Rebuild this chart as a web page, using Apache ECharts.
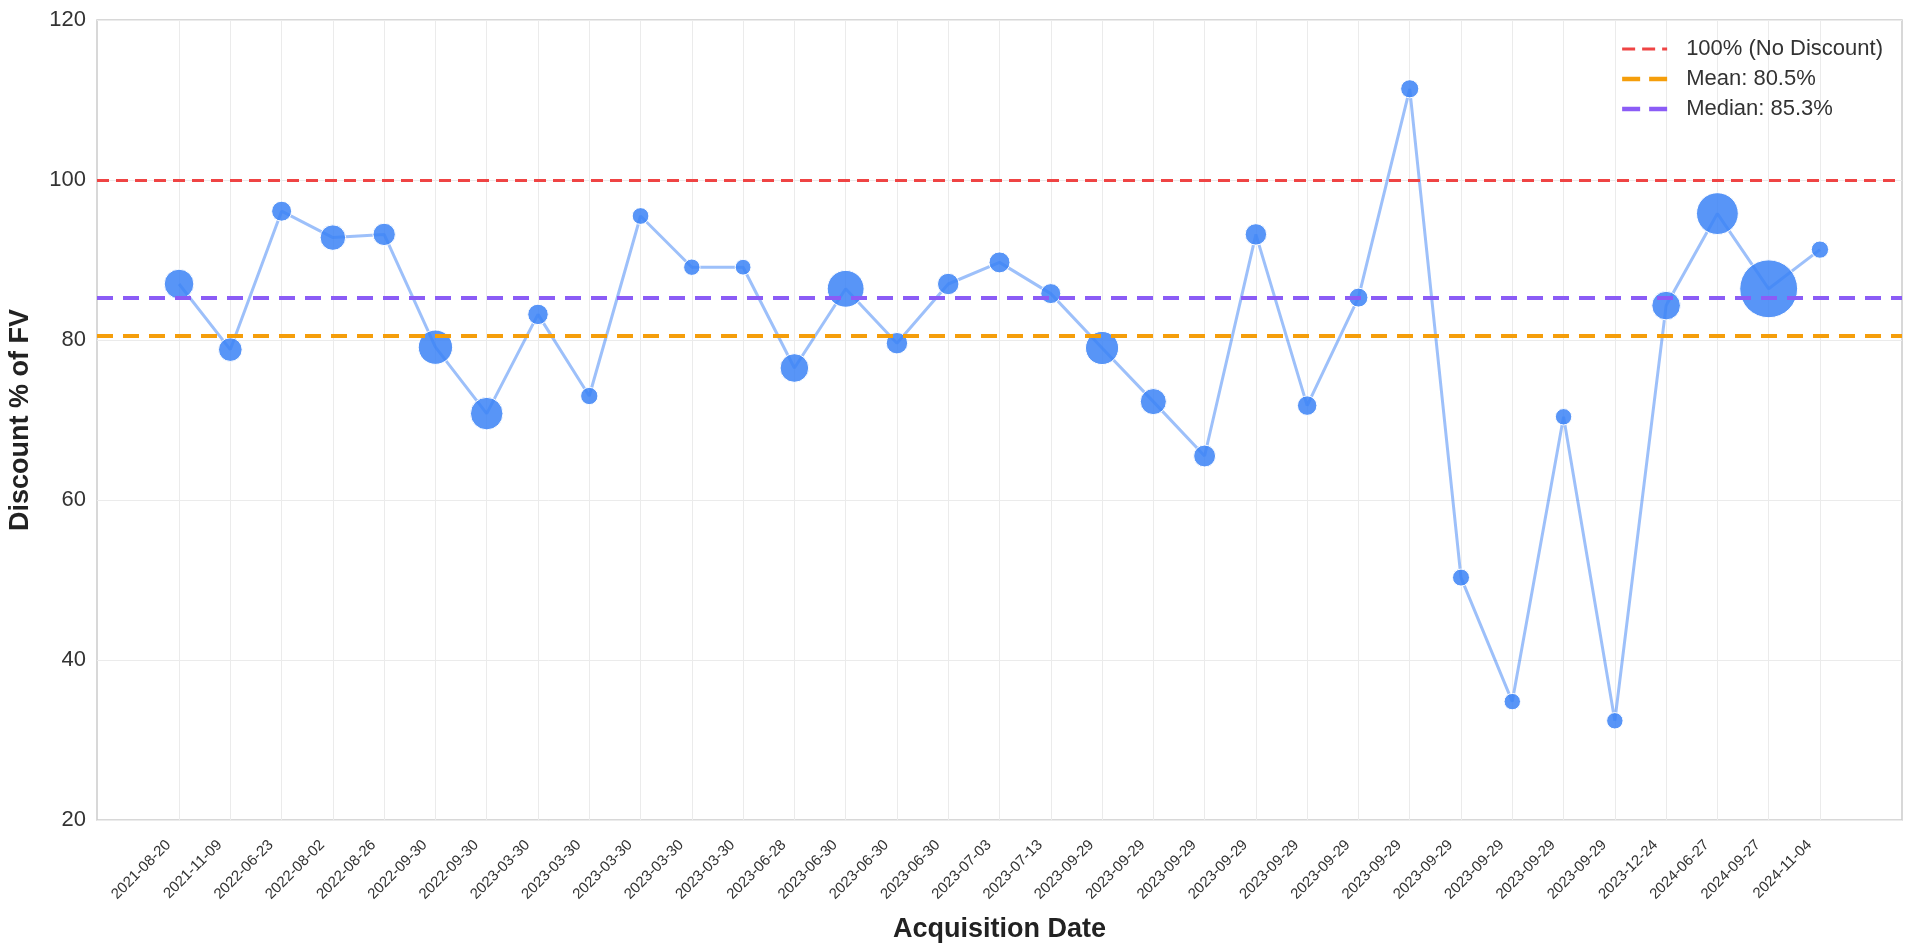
<!DOCTYPE html>
<html>
<head>
<meta charset="utf-8">
<script src="https://cdn.jsdelivr.net/npm/echarts@6/dist/echarts.min.js"></script>
<style>
  html, body { margin: 0; padding: 0; background: #ffffff; }
  #chart { width: 1920px; height: 952px; }
</style>
</head>
<body>
<div id="chart"></div>
<script>
// ---- Data ----
const acquisitionDates = [
  '2021-08-20', '2021-11-09', '2022-06-23', '2022-08-02', '2022-08-26',
  '2022-09-30', '2022-09-30', '2023-03-30', '2023-03-30', '2023-03-30',
  '2023-03-30', '2023-03-30', '2023-06-28', '2023-06-30', '2023-06-30',
  '2023-06-30', '2023-07-03', '2023-07-13', '2023-09-29', '2023-09-29',
  '2023-09-29', '2023-09-29', '2023-09-29', '2023-09-29', '2023-09-29',
  '2023-09-29', '2023-09-29', '2023-09-29', '2023-09-29', '2023-12-24',
  '2024-06-27', '2024-09-27', '2024-11-04'
];
const discountPct = [
  87.0, 78.8, 96.1, 92.8, 93.2, 79.1, 70.8, 83.2, 73.0, 95.5,
  89.1, 89.1, 76.5, 86.4, 79.6, 87.0, 89.7, 85.8, 79.0, 72.3,
  65.5, 93.2, 71.8, 85.3, 111.4, 50.3, 34.8, 70.4, 32.4, 84.3,
  95.8, 86.4, 91.3
];
// relative deal size (drives bubble area)
const dealSize = [
  88, 56, 40, 65, 50, 118, 106, 42, 30, 28,
  27, 25, 82, 136, 46, 46, 44, 40, 110, 68,
  48, 46, 38, 36, 33, 29, 27, 27, 27, 82,
  175, 335, 30
];
const noDiscountLevel = 100;
const meanValue = 80.5;
const medianValue = 85.3;
const yTicks = [20, 40, 60, 80, 100, 120];

// ---- Chart ----
const FONT = "'Liberation Sans', Arial, sans-serif";
const indices = acquisitionDates.map((d, i) => i);
const points = discountPct.map((v, i) => [i, v, dealSize[i]]);
const pad = (acquisitionDates.length - 1) * 0.05;

const nameRef = '100% (No Discount)';
const nameMean = 'Mean: ' + meanValue.toFixed(1) + '%';
const nameMedian = 'Median: ' + medianValue.toFixed(1) + '%';

// legend glyphs: dashed line segments drawn as small bars
const iconThin = 'path://M0,0h13v3h-13z M20,0h13v3h-13z M40,0h5v3h-5z';
const iconThick = 'path://M0,0h18v4.5h-18z M27,0h18v4.5h-18z';

function refSeries(name, value, color, width, dash) {
  return {
    name: name,
    type: 'line',
    data: [],
    symbol: 'none',
    lineStyle: { color: color, width: width, type: dash },
    itemStyle: { color: color },
    markLine: {
      silent: true,
      symbol: ['none', 'none'],
      label: { show: false },
      lineStyle: { color: color, width: width, type: dash },
      data: [{ yAxis: value }],
      animation: false
    },
    z: 3
  };
}

const chart = echarts.init(document.getElementById('chart'), null, { renderer: 'canvas' });
chart.setOption({
  animation: false,
  backgroundColor: '#ffffff',
  textStyle: { fontFamily: FONT },
  grid: {
    left: 97, right: 18, top: 20, bottom: 132,
    show: true, borderColor: '#cccccc', borderWidth: 1.5,
    containLabel: false,
    outerBoundsMode: 'none'
  },
  legend: {
    orient: 'vertical',
    right: 32,
    top: 33,
    padding: 5,
    itemWidth: 45,
    itemHeight: 14,
    itemGap: 8,
    textStyle: { fontSize: 22, color: '#333333', fontFamily: FONT, lineHeight: 22, padding: [0, 0, 0, 14] },
    data: [
      { name: nameRef, icon: iconThin, itemStyle: { color: '#ef4444' } },
      { name: nameMean, icon: iconThick, itemStyle: { color: '#f59e0b' } },
      { name: nameMedian, icon: iconThick, itemStyle: { color: '#8b5cf6' } }
    ]
  },
  xAxis: {
    type: 'value',
    min: -pad,
    max: acquisitionDates.length - 1 + pad,
    name: 'Acquisition Date',
    nameLocation: 'middle',
    nameGap: 96,
    nameTextStyle: { fontSize: 27, fontWeight: 'bold', color: '#222222', fontFamily: FONT },
    axisLine: { show: false },
    axisTick: { show: false, customValues: indices },
    axisLabel: {
      customValues: indices,
      rotate: 45,
      fontSize: 15,
      color: '#333333',
      margin: 12,
      padding: [0, 15, 0, 0],
      formatter: (v) => acquisitionDates[Math.round(v)] || ''
    },
    splitLine: { show: true, lineStyle: { color: '#ebebeb', width: 1 } }
  },
  yAxis: {
    type: 'value',
    min: yTicks[0],
    max: yTicks[yTicks.length - 1],
    interval: 20,
    name: 'Discount % of FV',
    nameLocation: 'middle',
    nameGap: 63,
    nameTextStyle: { fontSize: 27, fontWeight: 'bold', color: '#222222', fontFamily: FONT },
    axisLine: { show: false },
    axisTick: { show: false },
    axisLabel: { fontSize: 22, color: '#333333', margin: 11 },
    splitLine: { show: true, lineStyle: { color: '#ebebeb', width: 1 } }
  },
  series: [
    {
      name: 'Discount',
      type: 'line',
      data: points,
      symbol: 'circle',
      symbolSize: (val) => Math.sqrt(val[2] * 10),
      showAllSymbol: true,
      lineStyle: { color: '#3b82f6', width: 3, opacity: 0.5 },
      itemStyle: { color: 'rgba(59,130,246,0.85)', borderColor: '#ffffff', borderWidth: 1 },
      z: 2
    },
    refSeries(nameRef, noDiscountLevel, '#ef4444', 2.8, [12, 7]),
    refSeries(nameMean, meanValue, '#f59e0b', 4.2, [16, 10]),
    refSeries(nameMedian, medianValue, '#8b5cf6', 4.2, [16, 10])
  ]
});
</script>
</body>
</html>
